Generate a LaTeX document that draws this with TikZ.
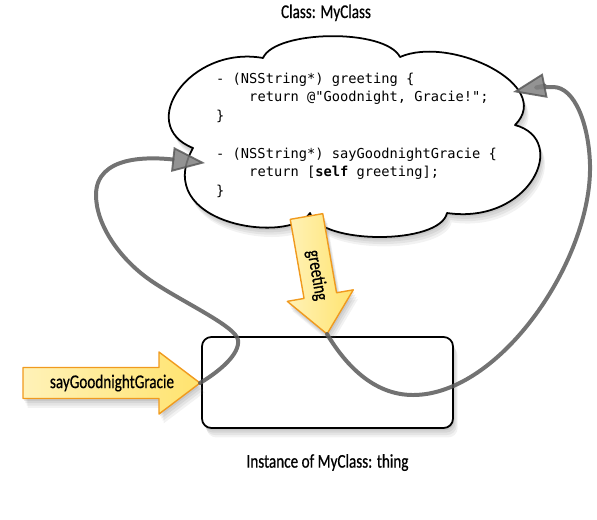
\documentclass[tikz,border=0pt]{standalone}
\usepackage{fontspec}
\setmainfont{Carlito}[FakeStretch=0.78,FakeBold=0.6]
\newfontfamily\codefont{DejaVu Sans Mono}
\usetikzlibrary{arrows.meta,shadows,positioning}

\definecolor{argpale}{HTML}{FFF2B8}
\definecolor{argfill}{HTML}{FFE36E}
\definecolor{argedge}{HTML}{F09A1E}
\definecolor{curvegray}{HTML}{5A5A5A}
\definecolor{headgray}{HTML}{808080}

\begin{document}
\begin{tikzpicture}[x=0.03cm,y=-0.03cm,line cap=round,line join=round]
  \tikzset{
    softshadow/.style={
      drop shadow={opacity=.16,shadow xshift=1pt,shadow yshift=-2pt},
      drop shadow={opacity=.14,shadow xshift=2pt,shadow yshift=-4pt},
      drop shadow={opacity=.12,shadow xshift=3pt,shadow yshift=-6pt},
      drop shadow={opacity=.1,shadow xshift=4pt,shadow yshift=-8pt}},
    outline/.style={draw=black,line width=1.5pt,fill=white,softshadow},
    callarrow/.style={draw=argedge,line width=1.2pt,left color=argpale,right color=argfill,softshadow},
    msgcurve/.style={draw=curvegray,line width=3.4pt,opacity=.85,
      -{Triangle[length=28pt,width=21pt,line width=1.6pt,fill=headgray]}},
    nametext/.style={font=\fontsize{16.6}{20}\selectfont,inner sep=0pt},
    codetext/.style={font=\codefont\fontsize{11.7}{16}\selectfont,align=left,inner sep=0pt}
  }
  \useasboundingbox (0,0) rectangle (597,519);

  % Class cloud
  \draw[outline] (263,58) .. controls (275,30) and (385,28) .. (400,57)
    .. controls (450,35) and (555,85) .. (515,125)
    .. controls (570,140) and (530,225) .. (447,213)
    .. controls (440,245) and (320,245) .. (310,213)
    .. controls (290,245) and (150,225) .. (193,148)
    .. controls (135,125) and (190,45) .. cycle;
  \node[nametext,anchor=base] (classname) at (326,18) {Class: MyClass};
  \node[codetext,anchor=north west] (methods) at (216,72.5) {- (NSString*) greeting \{\\
\phantom{1234}return @"Goodnight, Gracie!";\\
\}\\[16pt]
- (NSString*) sayGoodnightGracie \{\\
\phantom{1234}return [\textbf{self} greeting];\\
\}};

  % Instance
  \node[outline,rounded corners=8pt,minimum width=7.53cm,minimum height=2.73cm] (thing) at (327.5,382.5) {};
  \node[nametext,below=0.75cm of thing] (thingname) {Instance of MyClass: thing};

  % Incoming message
  \begin{scope}[shift={(200,383)}]
    \draw[callarrow] (0,0) -- (-41,-31) -- (-41,-15.5) -- (-177,-15.5) -- (-177,15.5) -- (-41,15.5) -- (-41,31) -- cycle;
    \coordinate (sayTip) at (0,0);
    \node[nametext] (sayname) at (-88,0) {sayGoodnightGracie};
  \end{scope}

  % Message to self
  \begin{scope}[shift={(327,334)},rotate=-80.1]
    \draw[callarrow] (0,0) -- (-39,-33.5) -- (-39,-16.5) -- (-119.3,-16.5) -- (-119.3,16.5) -- (-39,16.5) -- (-39,33.5) -- cycle;
    \coordinate (greetTip) at (0,0);
    \node[nametext,rotate=-80.1] (greetname) at (-59.6,0) {greeting};
  \end{scope}

  % Method lookup
  \coordinate (sayEntry) at (205,163);
  \coordinate (greetEntry) at (513,92);
  \draw[msgcurve] (sayTip) .. controls +(20,-12) and +(2,14) .. (238,340)
    .. controls +(-2,-14) and +(30,21) .. (150,280)
    .. controls +(-30,-21) and +(0,30) .. (96,195)
    .. controls +(0,-40) and +(-55,-6) .. (sayEntry);
  \draw[msgcurve] (greetTip) .. controls +(18,30) and +(-40,0) .. (413,395)
    .. controls +(87,0) and +(2,95) .. (590,165)
    .. controls +(-1,-40) and +(22,0) .. (553,87)
    .. controls +(-15,0) and +(15,-3) .. (greetEntry);
\end{tikzpicture}
\end{document}
